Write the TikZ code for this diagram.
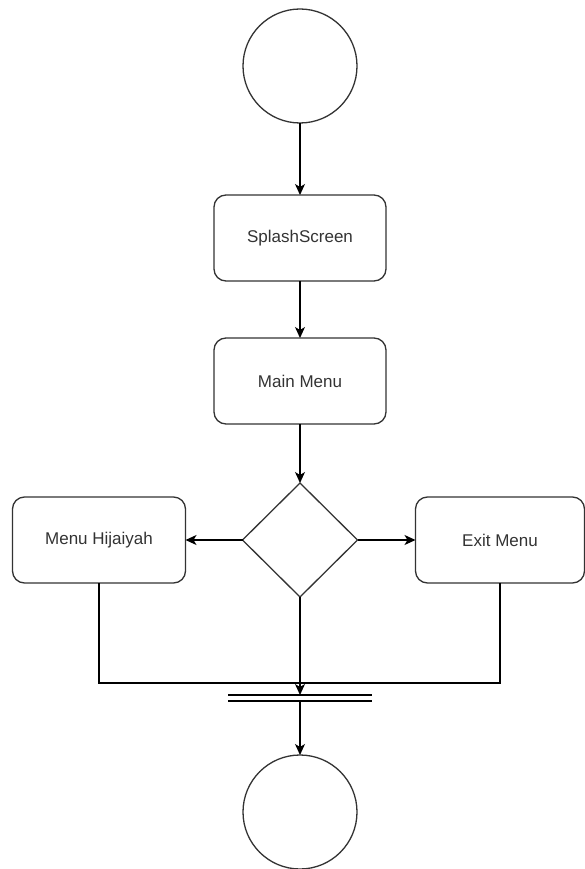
\documentclass[tikz,border=0pt]{standalone}
\usepackage{fontspec}
\setmainfont{Liberation Sans}
\usetikzlibrary{shapes.geometric,arrows.meta}
\definecolor{edge}{HTML}{333333}
\definecolor{txt}{HTML}{333333}
\begin{document}
\begin{tikzpicture}[x=1pt,y=-1pt,
  every node/.style={inner sep=0pt,outer sep=0pt},
  termcircle/.style={circle,draw=edge,line width=1.3pt,minimum size=114pt},
  stepbox/.style={rounded corners=12pt,draw=edge,line width=1.3pt,minimum width=172pt,minimum height=86pt,text=txt,font=\fontsize{17}{20}\selectfont},
  decision/.style={diamond,draw=edge,line width=1.3pt,minimum width=115pt,minimum height=114pt,aspect=1},
  flow/.style={draw=black,line width=1.3pt,-{Stealth[length=11pt,width=10pt,inset=3pt]}},
  plain/.style={draw=black,line width=1.3pt}]
\useasboundingbox (0,0) rectangle (585,869);
\node[termcircle] (start) at (300,66) {};
\node[stepbox] (splash) at (300,238) {SplashScreen};
\node[stepbox] (mainmenu) at (300,381) {Main Menu};
\node[decision] (dec) at (300,540) {};
\node[stepbox,minimum width=173pt] (hij) at (99,540) {Menu Hijaiyah};
\node[stepbox,minimum width=169pt] (exitm) at (500,540) {Exit Menu};
\node[minimum width=144pt,minimum height=6pt] (bar) at (300,698) {};
\node[termcircle] (end) at (300,812) {};
\coordinate (jl) at (99,683);
\coordinate (jr) at (500,683);
\draw[flow] (start.south) -- (splash.north);
\draw[flow] (splash.south) -- (mainmenu.north);
\draw[flow] (mainmenu.south) -- (dec.north);
\draw[flow] (dec.west) -- (hij.east);
\draw[flow] (dec.east) -- (exitm.west);
\draw[plain] (hij.south) -- (jl) -- (jr) -- (exitm.south);
\draw[flow] (dec.south) -- (bar.north);
\draw[plain] (bar.north west) -- (bar.north east);
\draw[plain] (bar.south west) -- (bar.south east);
\draw[flow] (bar.south) -- (end.north);
\end{tikzpicture}
\end{document}
